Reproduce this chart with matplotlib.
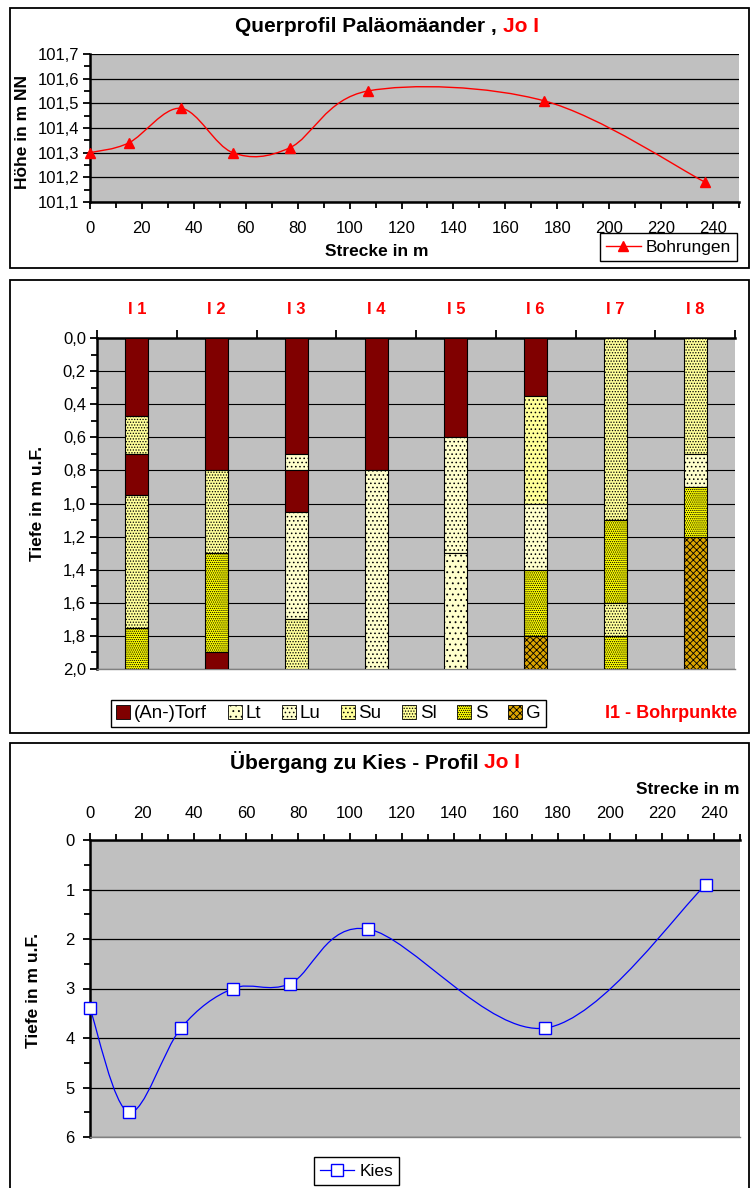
import numpy as np
import matplotlib
matplotlib.use("Agg")
import matplotlib.pyplot as plt
from matplotlib.path import Path
from matplotlib.patches import PathPatch, Patch, Rectangle
from matplotlib.lines import Line2D
from matplotlib.ticker import MultipleLocator, FuncFormatter

plt.rcParams['font.family'] = ['Liberation Sans', 'DejaVu Sans']
plt.rcParams['hatch.linewidth'] = 0.6

W, H = 752, 1188

# Bohrpunkte entlang des Profils
strecke = [0, 15, 35, 55, 77, 107, 175, 237]
hoehe = [101.30, 101.34, 101.48, 101.30, 101.32, 101.55, 101.51, 101.18]
kies_tiefe = [3.4, 5.5, 3.8, 3.0, 2.9, 1.8, 3.8, 0.9]

bohrpunkte = ['I 1', 'I 2', 'I 3', 'I 4', 'I 5', 'I 6', 'I 7', 'I 8']

# Schichtfolge je Bohrung: Bodenart und Unterkante (m u.F.)
i1_soil = ['Torf', 'Sl', 'Torf', 'Sl', 'S']
i1_base = [0.47, 0.70, 0.95, 1.75, 2.0]
i2_soil = ['Torf', 'Sl', 'S', 'Torf']
i2_base = [0.80, 1.30, 1.90, 2.0]
i3_soil = ['Torf', 'Lu', 'Torf', 'Lu', 'Sl']
i3_base = [0.70, 0.80, 1.05, 1.70, 2.0]
i4_soil = ['Torf', 'Lu']
i4_base = [0.80, 2.0]
i5_soil = ['Torf', 'Lu', 'Lt']
i5_base = [0.60, 1.30, 2.0]
i6_soil = ['Torf', 'Su', 'Lu', 'S', 'G']
i6_base = [0.35, 1.00, 1.40, 1.80, 2.0]
i7_soil = ['Sl', 'S', 'Sl', 'S']
i7_base = [1.10, 1.60, 1.80, 2.0]
i8_soil = ['Sl', 'Lu', 'S', 'G']
i8_base = [0.70, 0.90, 1.20, 2.0]

soil_keys = ['Torf', 'Lt', 'Lu', 'Su', 'Sl', 'S', 'G']
soil_labels = ['(An-)Torf', 'Lt', 'Lu', 'Su', 'Sl', 'S', 'G']

soil_style = {
    'Torf': ('#800000', None),
    'Lt': ('#ffffcc', '...'),
    'Lu': ('#ffffcc', '....'),
    'Su': ('#ffff99', '....'),
    'Sl': ('#ffff99', '......'),
    'S': ('#ffff00', '........'),
    'G': ('#dba400', 'xxxxx'),
}

comma = FuncFormatter(lambda v, p: f'{v:.1f}'.replace('.', ','))

fig = plt.figure(figsize=(W / 100, H / 100), dpi=100)
fig.patch.set_facecolor('white')


def px_axes(left, top, right, bottom):
    return fig.add_axes([left / W, 1 - bottom / H, (right - left) / W, (bottom - top) / H])


def fx(x):
    return x / W


def fy(y):
    return 1 - y / H


def smooth_path(xs, ys, k=1 / 6):
    # Bezier-Glättung wie bei Excel-Linien
    pts = np.column_stack([xs, ys]).astype(float)
    n = len(pts)
    verts = [pts[0]]
    codes = [Path.MOVETO]
    for i in range(n - 1):
        p0 = pts[max(i - 1, 0)]
        p1, p2 = pts[i], pts[i + 1]
        p3 = pts[min(i + 2, n - 1)]
        verts += [p1 + (p2 - p0) * k, p2 - (p3 - p1) * k, p2]
        codes += [Path.CURVE4] * 3
    return Path(verts, codes)


def two_tone(xc, y, black, red, size=15):
    r = fig.canvas.get_renderer()
    full = fig.text(0, 0, black + red, fontsize=size, weight='bold')
    wf = full.get_window_extent(r).width
    full.remove()
    x0 = xc - wf / 2
    fig.text(fx(x0), fy(y), black.rstrip(), fontsize=size, weight='bold',
             ha='left', va='center')
    fig.text(fx(x0 + wf), fy(y), red, fontsize=size, weight='bold',
             color='#ff0000', ha='right', va='center')


def style_axes(ax):
    ax.set_facecolor('#c0c0c0')
    ax.set_axisbelow(True)
    ax.grid(axis='y', which='major', color='black', lw=0.9)
    ax.grid(axis='x', visible=False)
    ax.spines['right'].set_visible(False)
    for s in ('left', 'top', 'bottom'):
        ax.spines[s].set_color('black')
        ax.spines[s].set_linewidth(1.8)
    ax.tick_params(which='both', direction='out', width=1.3, labelsize=12)
    ax.tick_params(which='major', length=5)
    ax.tick_params(which='minor', length=4)


# --- Querprofil ---
ax1 = px_axes(90, 54, 739, 202)
style_axes(ax1)
ax1.spines['top'].set_visible(False)
ax1.set_xlim(0, 250)
ax1.set_ylim(101.1, 101.7)
ax1.set_xticks(range(0, 241, 20))
ax1.xaxis.set_minor_locator(MultipleLocator(10))
ax1.yaxis.set_major_locator(MultipleLocator(0.1))
ax1.yaxis.set_minor_locator(MultipleLocator(0.05))
ax1.yaxis.set_major_formatter(comma)
ax1.tick_params(axis='x', pad=9)
ax1.tick_params(axis='y', pad=2.5)
ax1.add_patch(PathPatch(smooth_path(strecke, hoehe), fill=False, ec='#ff0000', lw=1.0, zorder=3))
ax1.plot(strecke, hoehe, ls='none', marker='^', ms=7.5, color='#ff0000', zorder=4, clip_on=False)

two_tone(387, 27, 'Querprofil Paläomäander , ', 'Jo I')
fig.text(fx(23), fy(132), 'Höhe in m NN', rotation=90, fontsize=12.5,
         weight='bold', ha='center', va='center')
fig.text(fx(377), fy(252), 'Strecke in m', fontsize=12.5, weight='bold', ha='center', va='center')
ax1.legend(handles=[Line2D([], [], color='#ff0000', marker='^', ms=7.5, lw=1.0)],
           labels=['Bohrungen'], loc='center', bbox_to_anchor=(fx(668.5), fy(247)),
           bbox_transform=fig.transFigure, fontsize=12.5, frameon=True, fancybox=False,
           edgecolor='black', framealpha=1, borderpad=0.35, handlelength=2.0,
           handletextpad=0.3)

# --- Bohrprofile ---
ax2 = px_axes(97, 338, 735, 669)
style_axes(ax2)
ax2.grid(axis='y', which='major', color='black', lw=0.8)
ax2.spines['bottom'].set_color('#808080')
ax2.spines['bottom'].set_linewidth(1.0)
ax2.set_xlim(-0.5, 7.5)
ax2.set_ylim(2.0, 0.0)
ax2.yaxis.set_major_locator(MultipleLocator(0.2))
ax2.yaxis.set_minor_locator(MultipleLocator(0.1))
ax2.yaxis.set_major_formatter(comma)
ax2.tick_params(axis='y', pad=3)
ax2.xaxis.tick_top()
ax2.set_xticks(np.arange(-0.5, 8, 1), [''] * 9)
ax2.set_xticks(range(len(bohrpunkte)), bohrpunkte, minor=True)
ax2.tick_params(axis='x', which='major', length=6)
ax2.tick_params(axis='x', which='minor', length=0, pad=15, labelcolor='#ff0000')
for lbl in ax2.get_xticklabels(minor=True):
    lbl.set_fontweight('bold')

profiles = [(i1_soil, i1_base), (i2_soil, i2_base), (i3_soil, i3_base), (i4_soil, i4_base),
            (i5_soil, i5_base), (i6_soil, i6_base), (i7_soil, i7_base), (i8_soil, i8_base)]
for pos, (soils, bases) in enumerate(profiles):
    top = 0.0
    for soil, base in zip(soils, bases):
        fc, hatch = soil_style[soil]
        ax2.bar(pos, base - top, bottom=top, width=0.29, color=fc, hatch=hatch,
                edgecolor='black', linewidth=0.8, zorder=3)
        top = base

fig.text(fx(38), fy(503), 'Tiefe in m u.F.', rotation=90, fontsize=12.5,
         weight='bold', ha='center', va='center')
soil_handles = [Patch(facecolor=soil_style[k][0], hatch=soil_style[k][1],
                      edgecolor='black', linewidth=0.6) for k in soil_keys]
ax2.legend(handles=soil_handles, labels=soil_labels, loc='center', ncol=7,
           bbox_to_anchor=(fx(328.5), fy(713.5)), bbox_transform=fig.transFigure,
           fontsize=13.5, frameon=True, fancybox=False, edgecolor='black', framealpha=1,
           borderpad=0.25, handlelength=0.75, handleheight=0.75, handletextpad=0.2,
           columnspacing=1.1)
fig.text(fx(671.5), fy(714), 'I1 - Bohrpunkte', fontsize=13, weight='bold',
         color='#ff0000', ha='center', va='center')

# --- Übergang zu Kies ---
ax3 = px_axes(90, 840, 740, 1137)
style_axes(ax3)
ax3.spines['bottom'].set_color('#808080')
ax3.spines['bottom'].set_linewidth(1.0)
ax3.set_xlim(0, 250)
ax3.set_ylim(6, 0)
ax3.xaxis.tick_top()
ax3.set_xticks(range(0, 241, 20))
ax3.xaxis.set_minor_locator(MultipleLocator(10))
ax3.yaxis.set_major_locator(MultipleLocator(1))
ax3.yaxis.set_minor_locator(MultipleLocator(0.5))
ax3.tick_params(axis='x', pad=9)
ax3.tick_params(axis='y', pad=6)
ax3.add_patch(PathPatch(smooth_path(strecke, kies_tiefe), fill=False, ec='#0000ff', lw=0.9, zorder=3))
ax3.plot(strecke, kies_tiefe, ls='none', marker='s', ms=8, mfc='white', mec='#0000ff',
         mew=1.0, zorder=4, clip_on=False)

two_tone(375, 762, 'Übergang zu Kies - Profil ', 'Jo I')
fig.text(fx(739), fy(789), 'Strecke in m', fontsize=12.5, weight='bold', ha='right', va='center')
fig.text(fx(33), fy(990), 'Tiefe in m u.F.', rotation=90, fontsize=12.5,
         weight='bold', ha='center', va='center')
ax3.legend(handles=[Line2D([], [], color='#0000ff', marker='s', ms=8, mfc='white',
                           mec='#0000ff', lw=0.9)],
           labels=['Kies'], loc='center', bbox_to_anchor=(fx(356.5), fy(1171)),
           bbox_transform=fig.transFigure, fontsize=12.5, frameon=True, fancybox=False,
           edgecolor='black', framealpha=1, borderpad=0.35, handlelength=2.0,
           handletextpad=0.3)

# Rahmen der drei Diagramme
for top, bottom in [(8, 268), (280, 733), (743, 1195)]:
    fig.add_artist(Rectangle((fx(10), fy(bottom)), (749 - 10) / W, (bottom - top) / H,
                             transform=fig.transFigure, fill=False, ec='black', lw=1.3))

fig.savefig('out.png', dpi=100)
